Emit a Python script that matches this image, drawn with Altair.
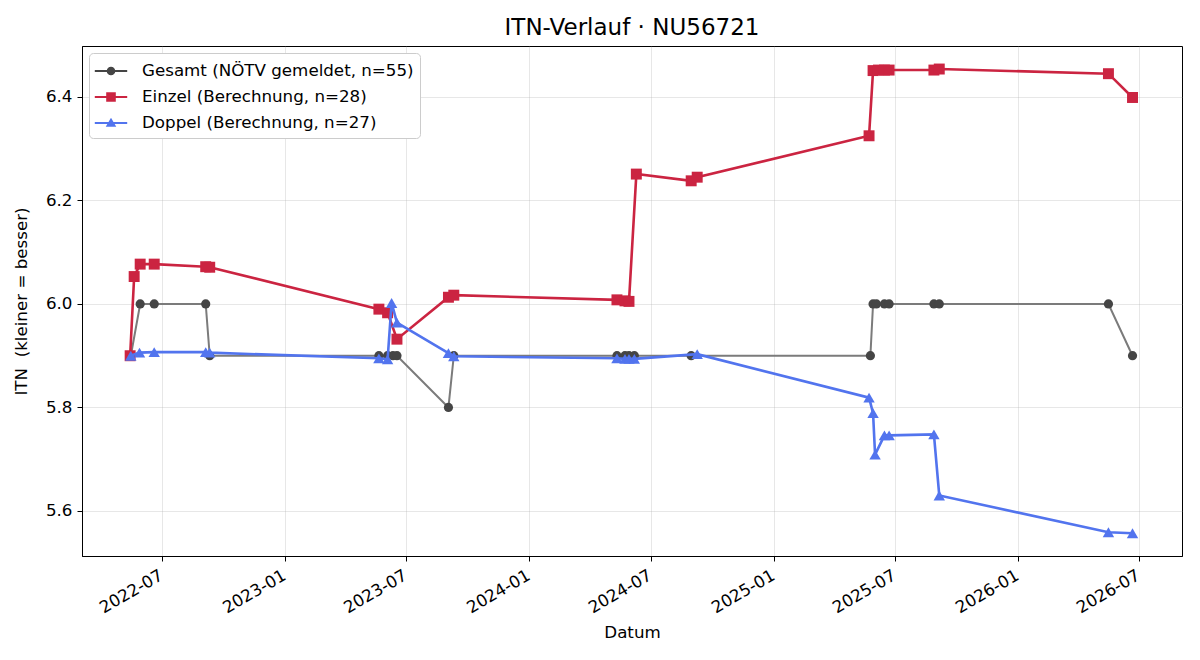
import altair as alt
import pandas as pd

# ---------------- data ----------------
series_names = [
    "Gesamt (NÖTV gemeldet, n=55)",
    "Einzel (Berechnung, n=28)",
    "Doppel (Berechnung, n=27)",
]

gesamt_dates = [
    "2022-05-15", "2022-05-29", "2022-06-19", "2022-09-04", "2022-09-10",
    "2023-05-21", "2023-06-03", "2023-06-11", "2023-06-17", "2023-09-02",
    "2023-09-10", "2024-05-11", "2024-05-23", "2024-05-29", "2024-06-06",
    "2024-08-30", "2025-05-25", "2025-05-29", "2025-06-03", "2025-06-15",
    "2025-06-22", "2025-08-28", "2025-09-05", "2026-05-16", "2026-06-21",
]
gesamt_vals = [
    5.9, 6.0, 6.0, 6.0, 5.9,
    5.9, 5.9, 5.9, 5.9, 5.8,
    5.9, 5.9, 5.9, 5.9, 5.9,
    5.9, 5.9, 6.0, 6.0, 6.0,
    6.0, 6.0, 6.0, 6.0, 5.9,
]

einzel_dates = [
    "2022-05-14", "2022-05-20", "2022-05-29", "2022-06-19", "2022-09-04",
    "2022-09-10", "2023-05-21", "2023-06-03", "2023-06-17", "2023-09-02",
    "2023-09-10", "2024-05-11", "2024-05-23", "2024-05-29", "2024-06-09",
    "2024-08-30", "2024-09-08", "2025-05-23", "2025-05-29", "2025-06-06",
    "2025-06-15", "2025-06-22", "2025-08-28", "2025-09-05", "2026-05-16",
    "2026-06-21",
]
einzel_vals = [
    5.900, 6.053, 6.077, 6.077, 6.072,
    6.071, 5.990, 5.983, 5.932, 6.013,
    6.017, 6.008, 6.006, 6.005, 6.251,
    6.238, 6.245, 6.325, 6.451, 6.452,
    6.452, 6.452, 6.452, 6.454, 6.445,
    6.399,
]

doppel_dates = [
    "2022-05-15", "2022-05-28", "2022-06-19", "2022-09-04", "2022-09-10",
    "2023-05-21", "2023-06-03", "2023-06-09", "2023-06-17", "2023-09-02",
    "2023-09-10", "2024-05-11", "2024-05-23", "2024-05-29", "2024-06-06",
    "2024-09-08", "2025-05-23", "2025-05-29", "2025-06-01", "2025-06-15",
    "2025-06-22", "2025-08-28", "2025-09-05", "2026-05-16", "2026-06-21",
]
doppel_vals = [
    5.900, 5.906, 5.907, 5.907, 5.906,
    5.895, 5.893, 6.002, 5.964, 5.905,
    5.899, 5.895, 5.894, 5.894, 5.894,
    5.903, 5.819, 5.789, 5.709, 5.746,
    5.746, 5.748, 5.630, 5.559, 5.557,
]

y_ticks = [5.6, 5.8, 6.0, 6.2, 6.4]
x_tick_months = [(2022, 7), (2023, 1), (2023, 7), (2024, 1), (2024, 7),
                 (2025, 1), (2025, 7), (2026, 1), (2026, 7)]

marker_colors = ["#454545", "#cb2441", "#5274ee"]
line_colors = ["#7b7b7b", "#cb2441", "#5274ee"]
line_widths = [2.0, 2.6, 2.6]
marker_shapes = ["circle", "square", "triangle-up"]
marker_sizes = [85, 120, 130]

# legend symbols: line + marker as one filled path
legend_paths = [
    "M-1.35,-0.09H1.35V0.09H-1.35Z M-0.36,0A0.36,0.36 0 1,1 0.36,0A0.36,0.36 0 1,1 -0.36,0Z",
    "M-1.35,-0.09H1.35V0.09H-1.35Z M-0.4,-0.4H0.4V0.4H-0.4Z",
    "M-1.35,-0.09H1.35V0.09H-1.35Z M0,-0.44L0.44,0.32H-0.44Z",
]

# ---------------- build table ----------------
rows = []
for name, ds, vs in zip(series_names,
                        [gesamt_dates, einzel_dates, doppel_dates],
                        [gesamt_vals, einzel_vals, doppel_vals]):
    for d, v in zip(ds, vs):
        rows.append({"series": name, "date": pd.Timestamp(d), "itn": v})
df = pd.DataFrame(rows)

FONT = "DejaVu Sans"
FS = 16.7

x_enc = alt.X(
    "date:T",
    scale=alt.Scale(domain=[alt.DateTime(year=2022, month=3, date=3),
                            alt.DateTime(year=2026, month=9, date=3)]),
    axis=alt.Axis(
        values=[alt.DateTime(year=y, month=m, date=1) for y, m in x_tick_months],
        format="%Y-%m", labelAngle=-30, labelAlign="right", labelBaseline="top",
        labelPadding=6, labelOffset=-5, title="Datum", titlePadding=8,
    ),
)
y_enc = alt.Y(
    "itn:Q",
    scale=alt.Scale(domain=[5.513, 6.4985], nice=False, zero=False),
    axis=alt.Axis(values=y_ticks, format=".1f", title="ITN\u00a0 (kleiner = besser)",
                  titlePadding=15),
)

layers = []
for i, name in enumerate(series_names):
    sub = alt.Chart(df).transform_filter(alt.datum.series == name)
    layers.append(
        sub.mark_line(color=line_colors[i], strokeWidth=line_widths[i]).encode(
            x=x_enc, y=y_enc, order="date:T")
    )
    layers.append(
        sub.mark_point(filled=True, color=marker_colors[i], opacity=1,
                       shape=marker_shapes[i], size=marker_sizes[i]).encode(x=x_enc, y=y_enc)
    )

legend_layer = alt.Chart(df).mark_point(filled=True, opacity=0).encode(
    x=x_enc, y=y_enc,
    color=alt.Color("series:N", scale=alt.Scale(domain=series_names, range=marker_colors),
                    legend=alt.Legend(title=None, symbolOpacity=1)),
    shape=alt.Shape("series:N", scale=alt.Scale(domain=series_names, range=legend_paths),
                    legend=alt.Legend(title=None, symbolOpacity=1)),
)

chart = alt.layer(*layers, legend_layer).properties(
    width=1100, height=510,
    title=alt.TitleParams("ITN-Verlauf · NU56721", fontSize=23, font=FONT,
                          fontWeight="normal", color="black", anchor="middle", offset=6),
    autosize="none",
    padding={"left": 82, "top": 46, "right": 18, "bottom": 104},
).configure_view(
    stroke="black", strokeWidth=1
).configure_axis(
    labelFont=FONT, titleFont=FONT, labelFontSize=FS, titleFontSize=FS,
    labelColor="black", titleColor="black", titleFontWeight="normal",
    domainColor="black", tickColor="black", tickSize=5, tickWidth=1,
    gridColor="#b0b0b0", gridOpacity=0.3, gridWidth=1,
).configure_axisY(labelPadding=5).configure_legend(
    orient="top-left", offset=7, fillColor="white", strokeColor="#cccccc",
    cornerRadius=4, padding=6, labelFont=FONT, labelFontSize=FS, labelColor="black",
    symbolSize=576, rowPadding=5, labelOffset=19, symbolOffset=4, labelLimit=450,
    symbolStrokeWidth=0,
)

chart.save("out.html", embed_options={"renderer": "svg", "actions": False})
